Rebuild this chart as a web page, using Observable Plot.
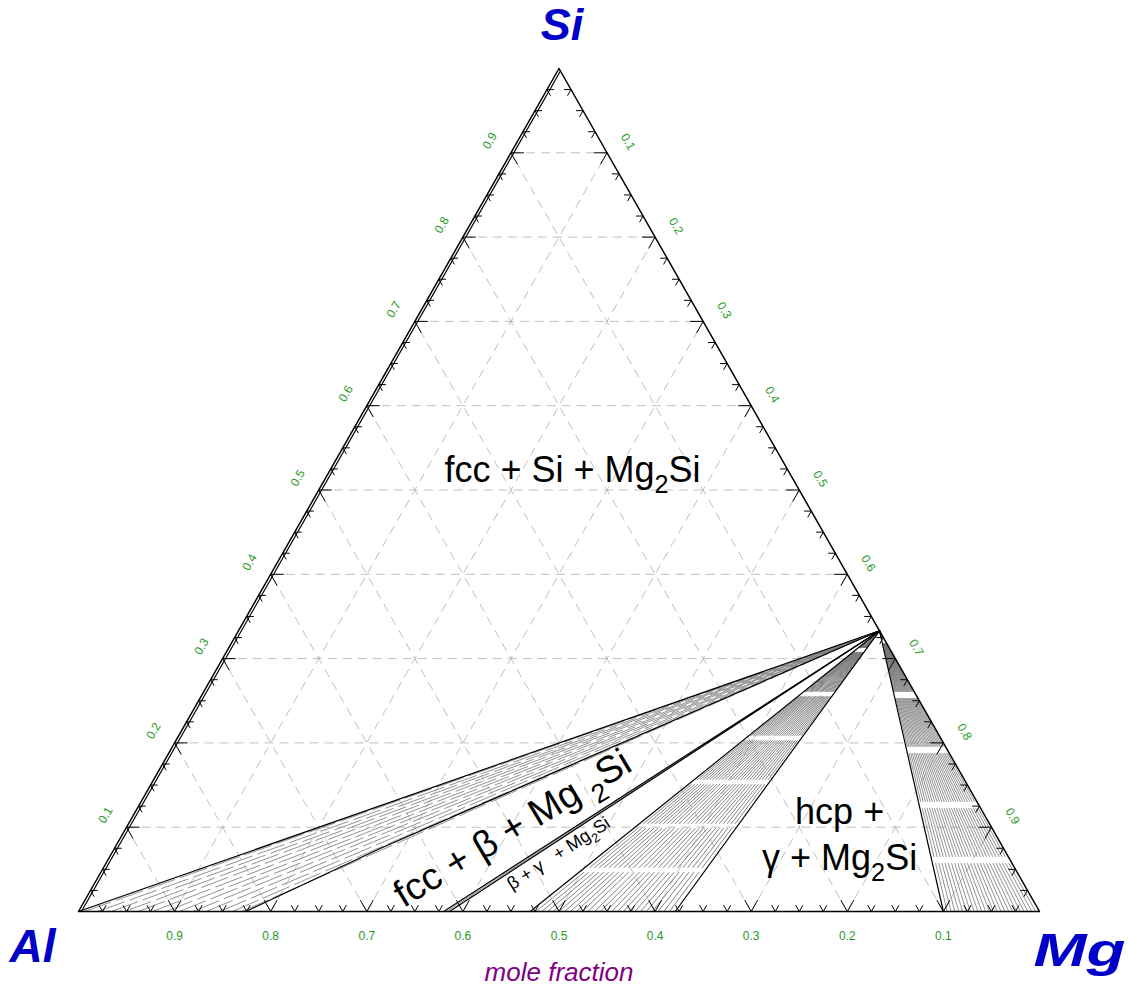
<!DOCTYPE html>
<html>
<head>
<meta charset="utf-8">
<script src="https://cdn.jsdelivr.net/npm/d3@7"></script>
<script src="https://cdn.jsdelivr.net/npm/@observablehq/plot@0.6"></script>
<style>
  body { margin: 0; background: #fff; }
  #chart svg { display: block; }
</style>
</head>
<body>
<div id="chart"></div>
<script>
// Isothermal section of the Al–Mg–Si system.
// Every composition is written as [Al, Mg, Si] mole fractions.

const gridFractions = [0.1, 0.2, 0.3, 0.4, 0.5, 0.6, 0.7, 0.8, 0.9];
const tickLabels = ["0.1", "0.2", "0.3", "0.4", "0.5", "0.6", "0.7", "0.8", "0.9"];
const minorTickCount = 40; // ticks every 0.025 along each edge

const cornerAl = [1, 0, 0];
const cornerMg = [0, 1, 0];
const cornerSi = [0, 0, 1];
const mg2si = [0, 0.667, 0.333];

// Single-phase limits on the Al–Mg binary edge
const fccLimit = [0.826, 0.174, 0];
const betaLimits = [[0.620, 0.380, 0], [0.614, 0.386, 0]];
const gammaLimits = [[0.530, 0.470, 0], [0.379, 0.621, 0]];
const hcpLimit = [0.100, 0.900, 0];

// Phase boundaries (black)
const boundaryNames = ["fcc+Si", "fcc upper", "fcc lower", "beta a", "beta b", "gamma a", "gamma b", "hcp"];
const boundaryPaths = [
  [[0.997, 0.003, 0], [0, 0.003, 0.997]],
  [cornerAl, mg2si],
  [fccLimit, [0.648, 0.277, 0.075], [0.415, 0.417, 0.168], mg2si],
  [betaLimits[0], mg2si],
  [betaLimits[1], mg2si],
  [gammaLimits[0], mg2si],
  [gammaLimits[1], mg2si],
  [hcpLimit, mg2si]
];

// Tie lines: Mg content of the binary-edge end, other end at Mg2Si
const fccTieMg = [0.006, 0.020, 0.034, 0.048, 0.062, 0.077, 0.091, 0.105, 0.119, 0.133, 0.147, 0.160, 0.170];
const betaTieMg = [0.383];
const gammaTieMg = [0.476, 0.482, 0.488, 0.494, 0.500, 0.506, 0.512, 0.518, 0.524, 0.530, 0.537, 0.543,
                    0.549, 0.555, 0.561, 0.567, 0.573, 0.579, 0.585, 0.591, 0.597, 0.603, 0.609, 0.615];
const hcpTieMg = [0.904, 0.908, 0.912, 0.916, 0.920, 0.924, 0.928, 0.932, 0.936, 0.940, 0.944, 0.948,
                  0.952, 0.956, 0.960, 0.964, 0.968, 0.972, 0.976, 0.980, 0.984, 0.988, 0.992, 0.996];

// Ternary -> Cartesian: x along the Al–Mg edge, y is the Si fraction
const toXY = ([al, mg, si]) => ({x: mg + si / 2, y: si});

function pathRows(id, comps) {
  return comps.map((c) => ({id, ...toXY(c)}));
}

const boundaryRows = boundaryPaths.flatMap((p, i) => pathRows(boundaryNames[i], p));
const tieRows = (name, list) => list.flatMap((m, i) => pathRows(name + i, [[1 - m, m, 0], mg2si]));

// Dashed grid lines at every 0.1 for each component
const gridRows = gridFractions.flatMap((v) => [
  [[1 - v, 0, v], [0, 1 - v, v]],   // constant Si
  [[v, 1 - v, 0], [v, 0, 1 - v]],   // constant Al
  [[1 - v, v, 0], [0, v, 1 - v]]    // constant Mg
]).map(([a, b]) => {
  const p = toXY(a), q = toXY(b);
  return {x1: p.x, y1: p.y, x2: q.x, y2: q.y};
});

// Edge ticks: two short strokes pointing into the triangle
const tickRows = [];
for (let i = 1; i < minorTickCount; i++) {
  const t = i / minorTickCount;
  const major = i % 4 === 0;
  const d = major ? 0.0135 : 0.0074;
  const edges = [
    // bottom edge (Al–Mg), t = Mg
    {o: [1 - t, t, 0], dirs: [[0, -d, d], [-d, 0, d]]},
    // left edge (Al–Si), t = Si
    {o: [1 - t, 0, t], dirs: [[-d, d, 0], [0, d, -d]]},
    // right edge (Mg–Si), t = Mg
    {o: [0, t, 1 - t], dirs: [[d, -d, 0], [d, 0, -d]]}
  ];
  for (const {o, dirs} of edges) {
    const p = toXY(o);
    for (const dv of dirs) {
      const q = toXY([o[0] + dv[0], o[1] + dv[1], o[2] + dv[2]]);
      tickRows.push({x1: p.x, y1: p.y, x2: q.x, y2: q.y});
    }
  }
}

const bottomLabels = gridFractions.map((v, i) => ({...toXY([v, 1 - v, 0]), text: tickLabels[i]}));
const leftLabels = gridFractions.map((v, i) => ({...toXY([1 - v, 0, v]), text: tickLabels[i]}));
const rightLabels = gridFractions.map((v, i) => ({...toXY([0, v, 1 - v]), text: tickLabels[i]}));

const font = "Liberation Sans, Arial, Helvetica, sans-serif";
const green = "#1f9a1f";
const blue = "#0000c8";
const tieGray = "#767676";

const chart = Plot.plot({
  width: 1128,
  height: 988,
  marginLeft: 78,
  marginRight: 89,
  marginTop: 68,
  marginBottom: 77,
  x: {domain: [0, 1], axis: null},
  y: {domain: [0, 1], axis: null},
  style: {background: "#fff", fontFamily: font},
  marks: [
    Plot.link(gridRows, {x1: "x1", y1: "y1", x2: "x2", y2: "y2",
      stroke: "#b8b8b8", strokeWidth: 0.9, strokeDasharray: "9,6"}),

    // tie lines
    Plot.line(tieRows("fcc", fccTieMg), {x: "x", y: "y", z: "id",
      stroke: tieGray, strokeWidth: 0.8, strokeDasharray: "28,6"}),
    Plot.line(tieRows("beta", betaTieMg), {x: "x", y: "y", z: "id",
      stroke: tieGray, strokeWidth: 0.8}),
    Plot.line(tieRows("gamma", gammaTieMg), {x: "x", y: "y", z: "id", ariaDescription: "gamma ties",
      stroke: tieGray, strokeWidth: 0.9, strokeDasharray: "39,5"}),
    Plot.line(tieRows("hcp", hcpTieMg), {x: "x", y: "y", z: "id", ariaDescription: "hcp ties",
      stroke: tieGray, strokeWidth: 0.8, strokeDasharray: "48,7"}),

    // phase boundaries
    Plot.line(boundaryRows, {x: "x", y: "y", z: "id", stroke: "#000", strokeWidth: 1.2}),

    // triangle frame
    Plot.line(pathRows("frame", [cornerAl, cornerMg, cornerSi, cornerAl]),
      {x: "x", y: "y", stroke: "#000", strokeWidth: 1.5}),

    // ticks
    Plot.link(tickRows, {x1: "x1", y1: "y1", x2: "x2", y2: "y2", stroke: "#000", strokeWidth: 1}),

    // tick labels
    Plot.text(bottomLabels, {x: "x", y: "y", text: "text", dy: 25, fill: green, fontSize: 12}),
    Plot.text(leftLabels, {x: "x", y: "y", text: "text", dx: -21, dy: -12, rotate: -60, fill: green, fontSize: 12}),
    Plot.text(rightLabels, {x: "x", y: "y", text: "text", dx: 21, dy: -11, rotate: 60, fill: green, fontSize: 12}),

    // component names
    Plot.text([toXY(cornerSi)], {x: "x", y: "y", text: ["Si"], dx: 3, dy: -43,
      fill: blue, fontSize: 45, fontWeight: "bold", fontStyle: "italic"}),
    Plot.text([toXY(cornerAl)], {x: "x", y: "y", text: ["Al"], dx: -46, dy: 36,
      fill: blue, fontSize: 46, fontWeight: "bold", fontStyle: "italic"}),
    Plot.text([toXY(cornerMg)], {x: "x", y: "y", text: ["Mg"], dx: 40, dy: 40, ariaDescription: "Mg name",
      fill: blue, fontSize: 46, fontWeight: "bold", fontStyle: "italic"}),
    Plot.text([{x: 0.5, y: 0}], {x: "x", y: "y", text: ["mole fraction"], dy: 61,
      fill: "#800080", fontSize: 26, fontStyle: "italic"}),

    // phase-field labels (subscript digits follow an underscore)
    Plot.text([{x: 0.514, y: 0.523}], {x: "x", y: "y", text: ["fcc + Si + Mg_2Si"], fontSize: 36, fill: "#000"}),
    Plot.text([{x: 0.792, y: 0.1174}], {x: "x", y: "y", text: ["hcp +"], fontSize: 36, fill: "#000"}),
    Plot.text([{x: 0.792, y: 0.0629}], {x: "x", y: "y", text: ["γ + Mg_2Si"], fontSize: 36, fill: "#000"}),
    Plot.text([{x: 0.4516, y: 0.0985}], {x: "x", y: "y", text: ["fcc + β + Mg _2Si"], rotate: -31, fontSize: 38, fill: "#000"}),
    Plot.text([{x: 0.4995, y: 0.0688}], {x: "x", y: "y", text: ["β + γ   + Mg_2Si"], rotate: -33, fontSize: 18, fill: "#000"})
  ]
});

document.getElementById("chart").appendChild(chart);

// Dash lengths of the fanned tie lines are measured in height (Si content),
// so every tie line breaks at the same composition levels.
chart.querySelectorAll('g[aria-description="gamma ties"] path, g[aria-description="hcp ties"] path').forEach((p) => {
  const box = p.getBBox();
  p.setAttribute("pathLength", box.height);
});

// The Mg name is set wide
chart.querySelectorAll('g[aria-description="Mg name"] text').forEach((t) => {
  t.setAttribute("textLength", 92);
  t.setAttribute("lengthAdjust", "spacingAndGlyphs");
});

// Turn "_2" markers into lowered, smaller digits
const ns = "http://www.w3.org/2000/svg";
chart.querySelectorAll("text").forEach((t) => {
  const s = t.textContent;
  if (!/_\d/.test(s)) return;
  const fs = parseFloat(getComputedStyle(t).fontSize);
  const parts = s.split(/_(\d)/);
  t.textContent = "";
  parts.forEach((p, i) => {
    const ts = document.createElementNS(ns, "tspan");
    ts.textContent = p;
    if (i % 2 === 1) {
      ts.setAttribute("font-size", fs * 0.7);
      ts.setAttribute("dy", fs * 0.3);
    } else if (i > 0) {
      ts.setAttribute("dy", -fs * 0.3);
    }
    t.appendChild(ts);
  });
});
</script>
</body>
</html>
